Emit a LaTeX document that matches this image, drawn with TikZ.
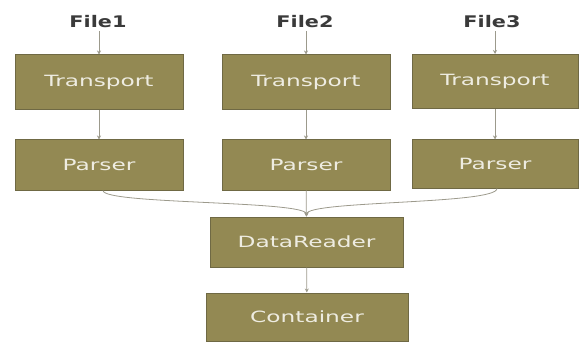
\documentclass[tikz,border=0pt]{standalone}
\usepackage{fontspec}
\usetikzlibrary{arrows.meta}
\newfontfamily\boxfont[FakeStretch=1.5]{DejaVu Sans}
\newfontfamily\filefont[FakeStretch=1.3]{DejaVu Sans Bold}
\definecolor{olivefill}{HTML}{938953}
\definecolor{olivedraw}{HTML}{6F6944}
\definecolor{boxtext}{HTML}{EEECE1}
\definecolor{filetext}{HTML}{3A3A3A}
\definecolor{conn}{HTML}{9C9A8C}
\tikzset{
  blk/.style={draw=olivedraw, line width=1pt, fill=olivefill, text=boxtext,
    inner sep=0pt, font=\boxfont\fontsize{15.5}{18}\selectfont},
  flabel/.style={text=filetext, inner sep=1pt, font=\filefont\fontsize{16}{18}\selectfont},
  link/.style={draw=conn, line width=0.8pt, -{Stealth[length=4pt,width=4pt]}}
}
\begin{document}
\begin{tikzpicture}[x=1pt,y=-1pt]
\useasboundingbox (0,0) rectangle (581,342);
% file labels
\node[flabel] (f1) at (98,22) {File1};
\node[flabel] (f2) at (305,22) {File2};
\node[flabel] (f3) at (492,22) {File3};
% transports
\node[blk, minimum width=168pt, minimum height=55pt] (t1) at (99,82.5) {Transport};
\node[blk, minimum width=168pt, minimum height=55pt] (t2) at (306,82.5) {Transport};
\node[blk, minimum width=166pt, minimum height=54pt] (t3) at (495,81.5) {Transport};
% parsers
\node[blk, minimum width=168pt, minimum height=50pt] (p1) at (99,165) {Parser};
\node[blk, minimum width=168pt, minimum height=50pt] (p2) at (306,165) {Parser};
\node[blk, minimum width=166pt, minimum height=48pt] (p3) at (495,164) {Parser};
% reader and container
\node[blk, minimum width=193pt, minimum height=50pt] (dr) at (306.5,242) {DataReader};
\node[blk, minimum width=202pt, minimum height=48pt] (ct) at (307,317) {Container};
% connectors
\draw[link] (t1.north |- f1.south) ++(0,2) -- (t1.north);
\draw[link] (t2.north |- f2.south) ++(0,2) -- (t2.north);
\draw[link] (t3.north |- f3.south) ++(0,2) -- (t3.north);
\draw[link] (t1) -- (p1);
\draw[link] (t2) -- (p2);
\draw[link] (t3) -- (p3);
\draw[link] (p2) -- (dr);
\draw[link] ([xshift=4pt]p1.south) .. controls +(0,14) and +(0,-16) .. (dr.north);
\draw[link] ([xshift=2pt]p3.south) .. controls +(0,16) and +(0,-16) .. (dr.north);
\draw[link] (dr) -- (ct);
\end{tikzpicture}
\end{document}
